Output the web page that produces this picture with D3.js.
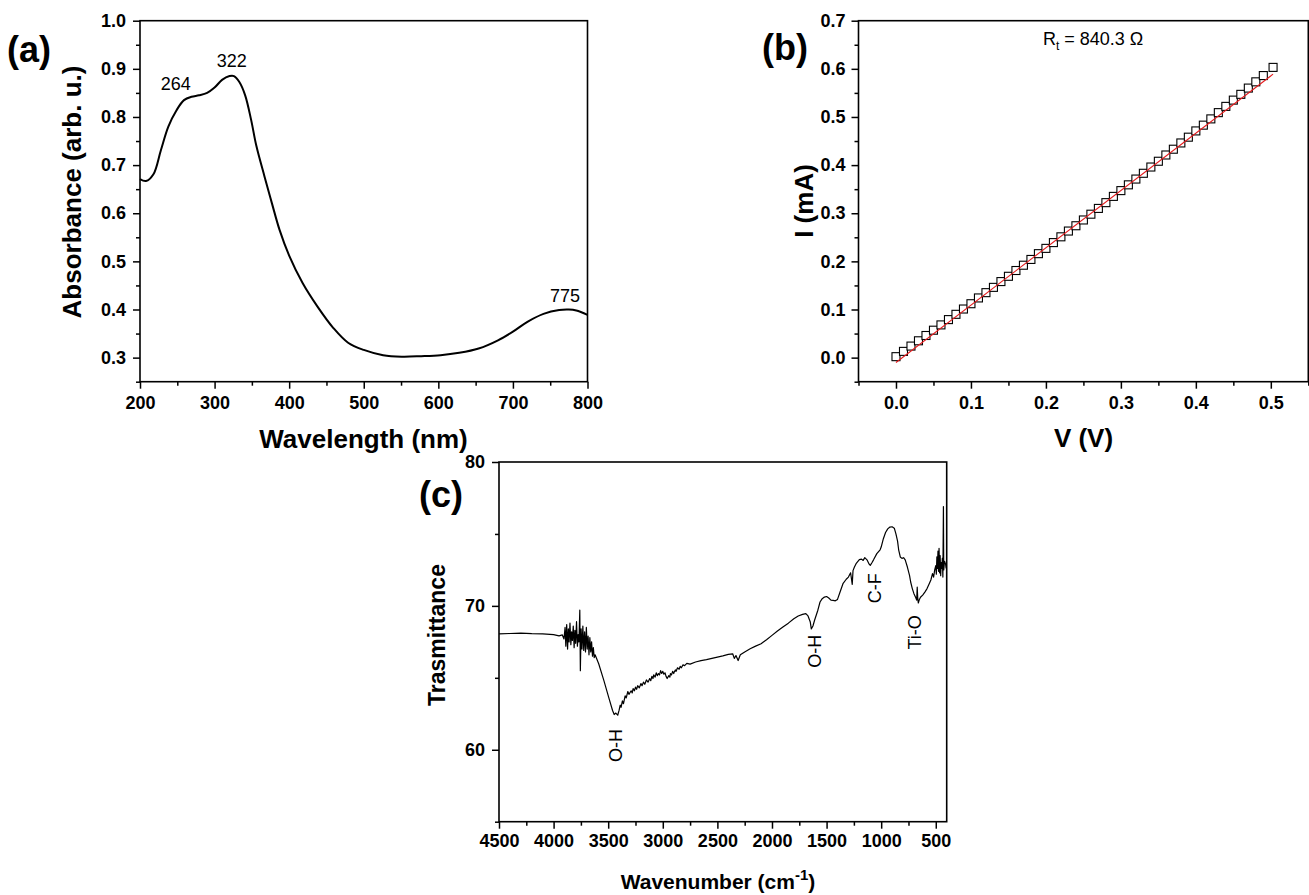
<!DOCTYPE html>
<html><head><meta charset="utf-8">
<script src="https://cdn.jsdelivr.net/npm/d3@7"></script>
<style>
html,body{margin:0;padding:0;background:#fff;}
text{font-family:"Liberation Sans",Arial,Helvetica,sans-serif;fill:#000;}
</style></head>
<body>
<svg id="fig" width="1309" height="895"></svg>
<script>
// ---------- Panel (a): UV-Vis absorbance ----------
const uvWavelength = [200,208,218,228,238,249,259,269,279,290,300,310,320,326,333,341,349,356,367,377,387,400,418,438,459,479,500,526,551,577,603,628,654,680,700,720,741,762,775,785,800];
const uvAbsorbance = [0.671,0.667,0.681,0.731,0.780,0.814,0.835,0.842,0.845,0.850,0.861,0.877,0.885,0.885,0.873,0.845,0.794,0.740,0.676,0.620,0.566,0.512,0.455,0.406,0.362,0.331,0.316,0.305,0.302,0.303,0.305,0.310,0.319,0.336,0.354,0.375,0.391,0.399,0.400,0.398,0.389];
const uvPeakLabels = ["264","322","775"];
const uvPeakLabelX = [248,323,770];
const uvPeakLabelY = [0.856,0.904,0.416];
const uvXTicks = [200,300,400,500,600,700,800];
const uvYTicks = [0.3,0.4,0.5,0.6,0.7,0.8,0.9,1.0];

// ---------- Panel (b): I-V ----------
const ivVoltage = [0.00,0.01,0.02,0.03,0.04,0.05,0.06,0.07,0.08,0.09,0.10,0.11,0.12,0.13,0.14,0.15,0.16,0.17,0.18,0.19,0.20,0.21,0.22,0.23,0.24,0.25,0.26,0.27,0.28,0.29,0.30,0.31,0.32,0.33,0.34,0.35,0.36,0.37,0.38,0.39,0.40,0.41,0.42,0.43,0.44,0.45,0.46,0.47,0.48,0.49,0.503];
const ivCurrent = [0.002,0.013,0.024,0.035,0.046,0.057,0.068,0.079,0.090,0.101,0.112,0.124,0.135,0.146,0.158,0.169,0.181,0.192,0.204,0.216,0.227,0.239,0.251,0.263,0.274,0.286,0.298,0.310,0.322,0.335,0.347,0.359,0.371,0.383,0.396,0.408,0.421,0.433,0.446,0.458,0.471,0.483,0.496,0.509,0.522,0.535,0.547,0.560,0.573,0.586,0.603];
const ivFitV = [0.0,0.503];
const ivFitI = [-0.010,0.589];
const ivXTicks = [0.0,0.1,0.2,0.3,0.4,0.5];
const ivYTicks = [0.0,0.1,0.2,0.3,0.4,0.5,0.6,0.7];

// ---------- Panel (c): FTIR ----------
const irWavenumber = [
  4500,4400,4300,4200,4100,4000,3950,3920,3905,3895,3888,3880,3872,3865,3858,3850,3842,3835,3828,3820,3812,3805,3798,3790,3782,3775,3768,3760,3755,3748,3740,3732,3724,3716,3708,3700,3692,3684,3676,3668,3660,3652,3644,3636,3628,3620,
  3587,3540,3492,3460,3445,3430,3413,
  3400,3390,3382,3370,3360,3345,3335,3320,3310,3290,3280,3272,3260,3250,3240,3230,3215,3200,3190,3177,3165,3150,3135,3120,3110,3100,3090,3083,3070,3060,3050,3040,3030,3020,3010,3000,2990,2980,2970,2960,2945,2935,2930,2920,2910,2900,2895,2885,2878,2865,2850,2840,2830,2815,2800,2780,2750,
  2700,2650,2600,2550,2500,2450,2400,2360,2345,2330,2310,2290,2250,2200,2150,2100,2050,2000,1950,1900,1850,1800,1760,1720,1690,1670,1650,1640,1625,1610,1580,1560,1540,1520,1500,1480,1460,1440,1420,1400,1375,1350,1320,1300,1280,1265,1258,1245,1230,1200,1180,1165,1150,1130,1110,1100,1085,1070,1040,1010,1000,980,960,940,920,900,880,865,850,840,825,810,795,780,760,740,730,715,700,685,675,670,665,660,650,640,620,600,580,560,545,530,520,510,500,495,490,485,480,475,470,465,460,455,450,445,440,435,430,427,420,410,405];
const irTransmittance = [
  68.05,68.08,68.10,68.07,68.06,68.00,67.92,67.98,67.70,68.50,67.20,68.70,67.00,68.40,67.50,68.80,67.30,68.20,67.60,68.60,67.10,68.30,67.40,68.90,67.20,68.00,67.50,69.70,65.50,68.40,67.00,68.60,66.90,68.20,66.80,68.50,67.00,67.90,66.60,67.80,66.80,67.50,66.50,67.10,66.40,66.60,
  65.98,64.82,63.55,62.73,62.45,62.55,62.40,
  62.75,63.10,62.95,63.40,63.20,63.75,63.60,64.05,63.85,64.10,63.95,64.25,64.10,64.35,64.20,64.45,64.30,64.60,64.45,64.70,64.55,64.85,64.70,64.95,64.80,65.10,64.95,65.20,65.05,65.35,65.15,65.30,65.20,65.50,65.30,65.45,65.25,65.35,65.10,64.95,65.15,65.05,65.30,65.20,65.45,65.30,65.40,65.55,65.45,65.70,65.60,65.80,65.70,65.90,65.85,66.00,65.95,
  66.10,66.20,66.26,66.35,66.44,66.52,66.63,66.67,66.35,66.55,66.20,66.60,66.80,67.02,67.20,67.37,67.65,67.95,68.25,68.53,68.80,69.11,69.30,69.41,69.46,69.30,68.90,68.40,68.60,69.00,69.70,70.27,70.50,70.61,70.65,70.55,70.40,70.38,70.35,70.45,71.00,71.54,71.85,72.00,72.30,71.50,72.45,72.70,72.93,73.21,73.25,73.16,73.35,73.20,72.90,72.82,73.00,73.20,73.63,73.90,74.09,74.67,75.10,75.35,75.48,75.50,75.40,75.00,74.50,73.90,73.40,73.30,73.35,73.20,72.70,72.10,71.66,71.20,70.85,70.60,70.40,71.30,70.50,70.20,70.45,70.60,70.75,70.96,71.20,71.54,71.80,72.24,72.00,72.50,72.80,72.20,73.40,72.60,73.80,72.40,74.00,72.30,73.50,72.10,73.00,72.60,73.30,72.00,76.90,72.50,73.10,72.90,72.60];
const irBandLabels = ["O-H","O-H","C-F","Ti-O"];
const irBandLabelX = [3429,1606,1057,690];
const irBandLabelY = [60.3,66.84,71.23,68.16];
const irXTicks = [4500,4000,3500,3000,2500,2000,1500,1000,500];
const irYTicks = [60,70,80];

// ---------- drawing ----------
const svg = d3.select("#fig");
const FONT_TICK = 18;

function frame(g, x, y, o) {
  const [x0,x1] = x.range(), [y0,y1] = y.range();
  g.append("g").attr("transform",`translate(0,${y0})`)
    .call(d3.axisBottom(x).tickValues(o.xMajor).tickSize(7).tickSizeOuter(0).tickPadding(o.xPad).tickFormat(o.xFmt));
  g.append("g").attr("transform",`translate(0,${y0})`)
    .call(d3.axisBottom(x).tickValues(o.xMinor).tickSize(4).tickSizeOuter(0).tickFormat(""));
  g.append("g").attr("transform",`translate(${x0},0)`)
    .call(d3.axisLeft(y).tickValues(o.yMajor).tickSize(7).tickSizeOuter(0).tickPadding(o.yPad).tickFormat(o.yFmt));
  g.append("g").attr("transform",`translate(${x0},0)`)
    .call(d3.axisLeft(y).tickValues(o.yMinor).tickSize(4).tickSizeOuter(0).tickFormat(""));
  g.selectAll(".domain").remove();
  g.selectAll(".tick line").attr("stroke","#000").attr("stroke-width",1.5);
  g.selectAll(".tick text").attr("font-size",FONT_TICK).attr("font-weight","bold")
    .attr("font-family",'"Liberation Sans",Arial,sans-serif');
  g.append("rect").attr("x",x0).attr("y",y1).attr("width",x1-x0).attr("height",y0-y1)
    .attr("fill","none").attr("stroke","#000").attr("stroke-width",1.6);
}

function label(g, txt, x, y, size, opts={}) {
  const t = g.append("text").attr("x",x).attr("y",y).attr("font-size",size)
    .attr("font-weight",opts.bold?"bold":"normal").attr("text-anchor",opts.anchor||"middle");
  if (opts.rot) t.attr("transform",`rotate(-90,${x},${y})`);
  if (opts.central) t.attr("dominant-baseline","central");
  t.text(txt);
  return t;
}

// Panel (a)
{
  const g = svg.append("g");
  const x = d3.scaleLinear().domain([200,800]).range([140,587.5]);
  const y = d3.scaleLinear().domain([0.25,1.0]).range([381.7,20.7]);
  const line = d3.line().x((d,i)=>x(uvWavelength[i])).y((d,i)=>y(uvAbsorbance[i])).curve(d3.curveCatmullRom);
  g.append("path").datum(uvWavelength).attr("d",line).attr("fill","none").attr("stroke","#000").attr("stroke-width",2);
  frame(g,x,y,{xMajor:uvXTicks,xMinor:[250,350,450,550,650,750],xPad:8,xFmt:d3.format("d"),
    yMajor:uvYTicks,yMinor:[0.25,0.35,0.45,0.55,0.65,0.75,0.85,0.95],yPad:7,yFmt:d3.format(".1f")});
  uvPeakLabels.forEach((s,i)=>label(g,s,x(uvPeakLabelX[i]),y(uvPeakLabelY[i]),18));
  label(g,"Wavelength (nm)",363.5,448,26,{bold:true});
  label(g,"Absorbance (arb. u.)",81,192,26,{bold:true,rot:true});
  label(g,"(a)",7,62,36,{bold:true,anchor:"start"});
}

// Panel (b)
{
  const g = svg.append("g");
  const x = d3.scaleLinear().domain([-0.05,0.55]).range([858.5,1308.3]);
  const y = d3.scaleLinear().domain([-0.05,0.7]).range([381.7,20.7]);
  frame(g,x,y,{xMajor:ivXTicks,xMinor:[-0.05,0.05,0.15,0.25,0.35,0.45,0.55],xPad:8,xFmt:d3.format(".1f"),
    yMajor:ivYTicks,yMinor:[-0.05,0.05,0.15,0.25,0.35,0.45,0.55,0.65],yPad:6,yFmt:d3.format(".1f")});
  const s = 8;
  g.append("g").selectAll("rect").data(ivVoltage).join("rect")
    .attr("x",(d)=>x(d)-s/2).attr("y",(d,i)=>y(ivCurrent[i])-s/2).attr("width",s).attr("height",s)
    .attr("fill","#fff").attr("stroke","#000").attr("stroke-width",1.1);
  const fit = d3.line().x((d,i)=>x(ivFitV[i])).y((d,i)=>y(ivFitI[i]));
  g.append("path").datum(ivFitV).attr("d",fit).attr("stroke","#e41a1c").attr("stroke-width",1.1).attr("fill","none");
  const rt = g.append("text").attr("x",x(0.263)).attr("y",y(0.65)).attr("text-anchor","middle").attr("font-size",18);
  rt.append("tspan").text("R");
  rt.append("tspan").attr("font-size",12).attr("dy",5).text("t");
  rt.append("tspan").attr("dy",-5).text(" = 840.3 \u03A9");
  label(g,"V (V)",1083.5,447,26,{bold:true});
  label(g,"I (mA)",813,201,26,{bold:true,rot:true});
  label(g,"(b)",762,60,36,{bold:true,anchor:"start"});
}

// Panel (c)
{
  const g = svg.append("g");
  const x = d3.scaleLinear().domain([4500,400]).range([499,946.7]);
  const y = d3.scaleLinear().domain([55,80]).range([821.7,462]);
  const line = d3.line().x((d,i)=>x(irWavenumber[i])).y((d,i)=>y(irTransmittance[i]));
  g.append("path").datum(irWavenumber).attr("d",line).attr("fill","none").attr("stroke","#000").attr("stroke-width",1.2).attr("stroke-linejoin","round");
  frame(g,x,y,{xMajor:irXTicks,xMinor:[4250,3750,3250,2750,2250,1750,1250,750],xPad:6,xFmt:d3.format("d"),
    yMajor:irYTicks,yMinor:[55,65,75],yPad:7,yFmt:d3.format("d")});
  irBandLabels.forEach((s,i)=>label(g,s,x(irBandLabelX[i]),y(irBandLabelY[i]),18,{rot:true,central:true}));
  const t = g.append("text").attr("x",718).attr("y",889).attr("text-anchor","middle").attr("font-size",21).attr("font-weight","bold");
  t.append("tspan").text("Wavenumber (cm");
  t.append("tspan").attr("font-size",15).attr("dy",-9).text("-1");
  t.append("tspan").attr("dy",9).text(")");
  label(g,"Trasmittance",445,635,23,{bold:true,rot:true});
  label(g,"(c)",419,507,36,{bold:true,anchor:"start"});
}
</script>
</body></html>
